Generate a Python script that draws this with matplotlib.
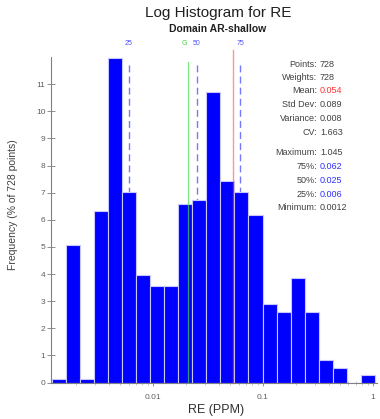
import numpy as np
import matplotlib
matplotlib.use("Agg")
import matplotlib.pyplot as plt

plt.rcParams['font.family'] = ['Liberation Sans', 'DejaVu Sans']

# Histogram data (percent of 728 points per log-spaced bin)
data_min = 0.0012
data_max = 1.045
n_bins = 23
freq_pct = [0.14, 5.08, 0.14, 6.32, 11.95, 7.01, 3.98, 3.57, 3.57, 6.59,
            6.73, 10.71, 7.42, 7.01, 6.18, 2.88, 2.61, 3.85, 2.61, 0.82,
            0.55, 0.0, 0.27]

# Reference statistics
mean_val = 0.054
geo_mean = 0.0209
q25, q50, q75 = 0.006, 0.025, 0.062

stat_labels = ["Points:", "Weights:", "Mean:", "Std Dev:", "Variance:", "CV:",
               "Maximum:", "75%:", "50%:", "25%:", "Minimum:"]
stat_values = ["728", "728", "0.054", "0.089", "0.008", "1.663",
               "1.045", "0.062", "0.025", "0.006", "0.0012"]
stat_colors = ["#404040", "#404040", "#ff3030", "#404040", "#404040", "#404040",
               "#404040", "#3030ff", "#3030ff", "#3030ff", "#404040"]

edges = np.geomspace(data_min, data_max, n_bins + 1)

fig = plt.figure(figsize=(3.8, 4.19), dpi=100)
ax = fig.add_axes([0.134, 0.087, 0.858, 0.777])
ax.set_xscale('log')

# quantile markers sit behind the bars
for q, lab in [(q25, "25"), (q50, "50"), (q75, "75")]:
    ax.axvline(q, ymin=0, ymax=0.985, color='#7878ff', lw=1.0,
               ls=(0, (5, 3)), zorder=1)
    ax.text(q, 12.35, lab, color='#5050ff', fontsize=5, ha='center',
            va='bottom')

ax.bar(edges[:-1], freq_pct, width=np.diff(edges), align='edge',
       color='#0000ff', edgecolor='#c8c8ff', linewidth=0.8, zorder=2)

ax.axvline(geo_mean, ymin=0, ymax=0.985, color='#40e040', lw=0.9,
           alpha=0.7, zorder=3)
ax.text(geo_mean * 0.97, 12.35, "G", color='#40d040', fontsize=5,
        ha='right', va='bottom')
ax.axvline(mean_val, ymin=0, ymax=1.02, color='#ff4040', lw=1.0,
           alpha=0.55, zorder=3, clip_on=False)

ax.set_xlim(0.00118, 1.09)
ax.set_ylim(0, 12)
ax.set_yticks(range(0, 12))
ax.set_xticks([0.01, 0.1, 1])
ax.set_xticklabels(["0.01", "0.1", "1"])
ax.xaxis.set_minor_formatter(matplotlib.ticker.NullFormatter())

for s in ['top', 'right']:
    ax.spines[s].set_visible(False)
for s in ['left', 'bottom']:
    ax.spines[s].set_color('#808080')
    ax.spines[s].set_linewidth(0.8)
ax.tick_params(axis='both', colors='#808080', labelcolor='#606060',
               labelsize=6, width=0.6)
ax.tick_params(axis='y', direction='inout', length=6, pad=1)
ax.tick_params(axis='x', which='major', direction='inout', length=4, pad=6)
ax.tick_params(axis='x', which='minor', direction='inout', length=3,
               color='#c0c0c0', width=0.6)

ax.set_xlabel("RE (PPM)", fontsize=9, color='#303030')
ax.xaxis.set_label_coords(0.508, -0.066)
ax.set_ylabel("Frequency (% of 728 points)", fontsize=7.5, color='#404040')
ax.yaxis.set_label_coords(-0.100, 0.546)

fig.text(0.574, 0.968, "Log Histogram for RE", fontsize=11, ha='center',
         va='center', color='#202020')
fig.text(0.574, 0.930, "Domain AR-shallow", fontsize=7.5, ha='center',
         va='center', color='#202020', fontweight='bold')

# statistics block
y_px = [64, 77, 90.7, 104.3, 118.3, 132.3, 152.7, 166.7, 180, 194, 207.7]
for lab, val, col, yp in zip(stat_labels, stat_values, stat_colors, y_px):
    fy = 1 - yp / 419
    fig.text(317 / 380, fy, lab, fontsize=6.5, ha='right', va='center',
             color='#404040')
    fig.text(320 / 380, fy, val, fontsize=6.5, ha='left', va='center',
             color=col)

fig.savefig("out.png", dpi=100)
